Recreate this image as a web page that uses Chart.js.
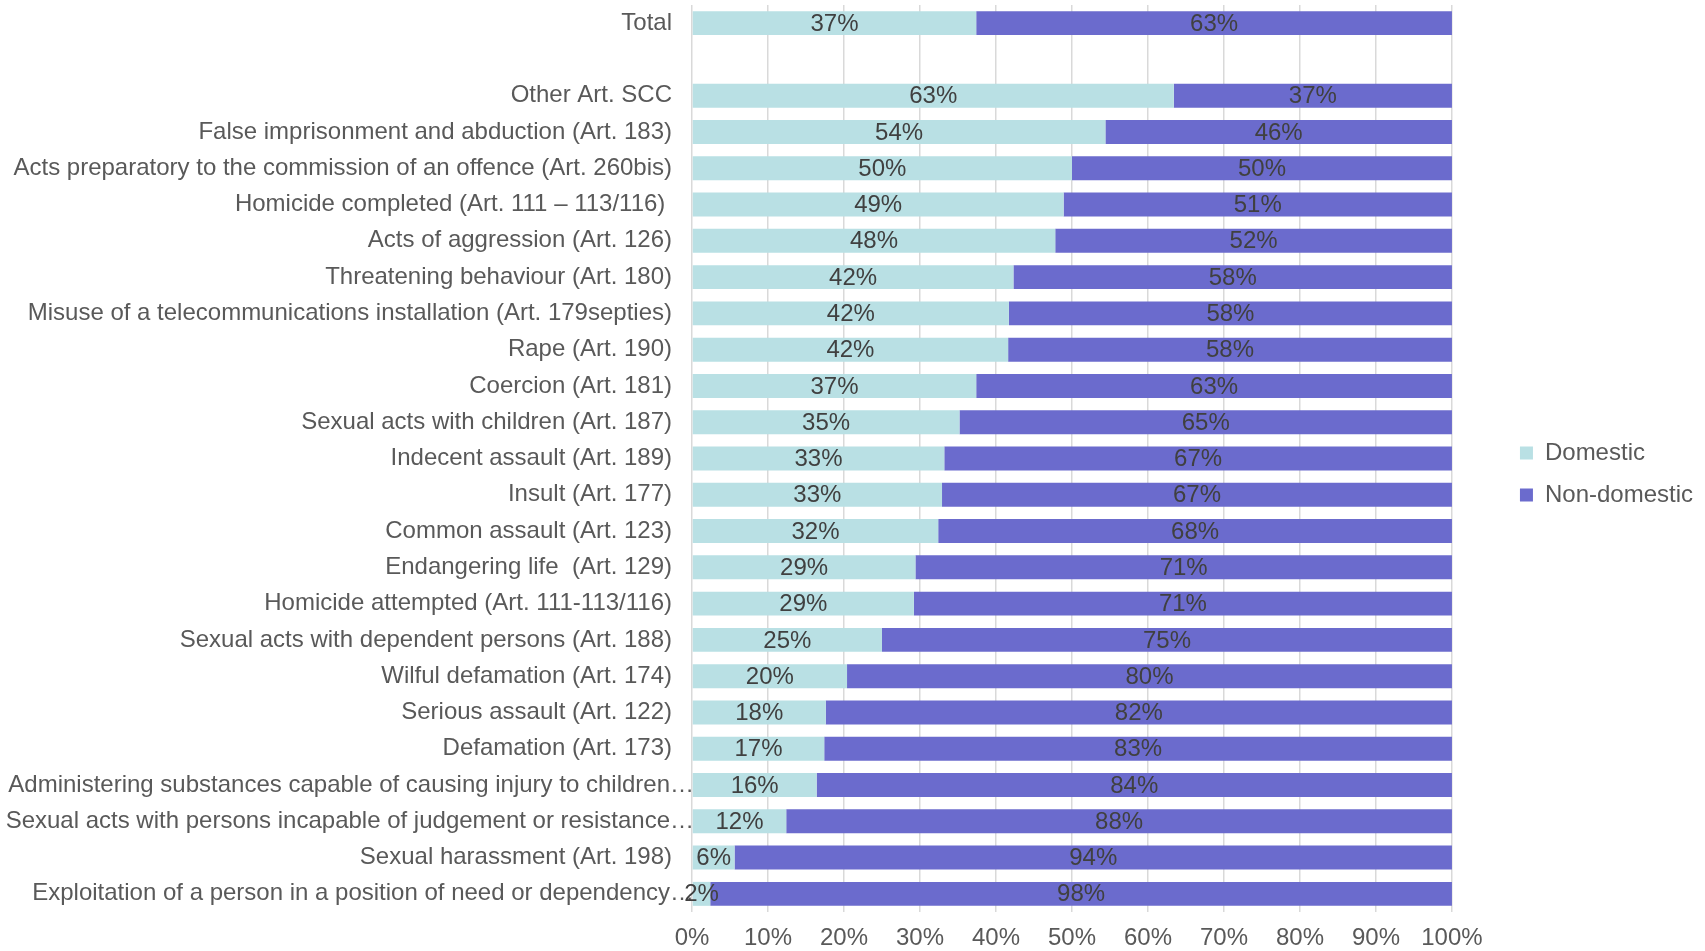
<!DOCTYPE html>
<html>
<head>
<meta charset="utf-8">
<script src="https://cdn.jsdelivr.net/npm/chart.js@4.4.1/dist/chart.umd.min.js"></script>
<style>
    html, body { margin: 0; padding: 0; background: #fff; }
    #wrap { width: 1705px; height: 951px; }
</style>
</head>
<body>
<div id="wrap"><canvas id="offenceChart"></canvas></div>
<script>
const FONT = "'Liberation Sans', Arial, sans-serif";

// categories, top to bottom ('' is the empty gap row under Total)
const offences = [
    'Total',
    '',
    'Other Art. SCC',
    'False imprisonment and abduction (Art. 183)',
    'Acts preparatory to the commission of an offence (Art. 260bis)',
    'Homicide completed (Art. 111 – 113/116) ',
    'Acts of aggression (Art. 126)',
    'Threatening behaviour (Art. 180)',
    'Misuse of a telecommunications installation (Art. 179septies)',
    'Rape (Art. 190)',
    'Coercion (Art. 181)',
    'Sexual acts with children (Art. 187)',
    'Indecent assault (Art. 189)',
    'Insult (Art. 177)',
    'Common assault (Art. 123)',
    'Endangering life  (Art. 129)',
    'Homicide attempted (Art. 111-113/116)',
    'Sexual acts with dependent persons (Art. 188)',
    'Wilful defamation (Art. 174)',
    'Serious assault (Art. 122)',
    'Defamation (Art. 173)',
    'Administering substances capable of causing injury to children…',
    'Sexual acts with persons incapable of judgement or resistance…',
    'Sexual harassment (Art. 198)',
    'Exploitation of a person in a position of need or dependency…'
];

const domestic = [37.4, null, 63.4, 54.4, 50.0, 48.9, 47.8, 42.3, 41.7, 41.6, 37.4, 35.2, 33.2, 32.9, 32.4, 29.4, 29.2, 25.0, 20.4, 17.6, 17.4, 16.4, 12.4, 5.6, 2.4];
const nonDomestic = [62.6, null, 36.6, 45.6, 50.0, 51.1, 52.2, 57.7, 58.3, 58.4, 62.6, 64.8, 66.8, 67.1, 67.6, 70.6, 70.8, 75.0, 79.6, 82.4, 82.6, 83.6, 87.6, 94.4, 97.6];

const xTicks = [0, 10, 20, 30, 40, 50, 60, 70, 80, 90, 100];

// the truncated labels run a little into the plot, as in the original
const truncatedRows = [21, 22, 24];

// percent labels centred in each bar segment
const barLabels = {
    id: 'barLabels',
    afterDatasetsDraw(chart) {
        const ctx = chart.ctx;
        ctx.save();
        ctx.font = '24px ' + FONT;
        ctx.fillStyle = '#404040';
        ctx.textAlign = 'center';
        ctx.textBaseline = 'middle';
        chart.data.datasets.forEach((ds, i) => {
            chart.getDatasetMeta(i).data.forEach((bar, j) => {
                const v = ds.data[j];
                if (v === null) return;
                const p = bar.getProps(['x', 'y', 'base'], true);
                ctx.fillText(Math.round(v) + '%', (p.x + p.base) / 2, p.y + 1);
            });
        });
        ctx.restore();
    }
};

// push the legend a bit away from the plot, and nudge the long labels
const layoutTweaks = {
    id: 'layoutTweaks',
    afterLayout(chart) {
        const lg = chart.legend;
        const dx = chart.chartArea.right + 50 - lg.left;
        lg.left += dx;
        lg.right += dx;
        lg.top -= 4;
        lg.bottom -= 4;
    },
    beforeDraw(chart) {
        const items = chart.scales.y.getLabelItems(chart.chartArea);
        truncatedRows.forEach(i => {
            if (items[i] && !items[i].shifted) {
                items[i].options.translation[0] += 22;
                items[i].shifted = true;
            }
        });
    }
};

const offenceCtx = document.getElementById('offenceChart').getContext('2d');
const offenceChart = new Chart(offenceCtx, {
    type: 'bar',
    data: {
        labels: offences,
        datasets: [{
            label: 'Domestic',
            data: domestic,
            backgroundColor: 'rgb(185, 224, 228)',
        }, {
            label: 'Non-domestic',
            data: nonDomestic,
            backgroundColor: 'rgb(107, 107, 205)',
        }]
    },
    options: {
        indexAxis: 'y',
        responsive: true,
        maintainAspectRatio: false,
        animation: false,
        layout: {
            autoPadding: false,
            padding: {top: 5, right: 52, bottom: 0, left: 0}
        },
        datasets: {
            bar: {
                categoryPercentage: 1,
                barPercentage: 0.66,
            }
        },
        plugins: {
            legend: {
                position: 'right',
                labels: {
                    boxWidth: 13,
                    boxHeight: 13,
                    padding: 18,
                    color: '#595959',
                    font: {family: FONT, size: 24},
                },
            },
            tooltip: {enabled: false},
        },
        scales: {
            x: {
                stacked: true,
                min: 0,
                max: 100,
                afterBuildTicks: (scale) => {
                    scale.ticks = xTicks.map(v => ({value: v}));
                },
                afterFit: (scale) => {
                    scale.height = 39;
                    scale.paddingLeft = 0;
                    scale.paddingRight = 0;
                },
                grid: {color: '#D9D9D9', lineWidth: 1.5, drawTicks: false},
                border: {display: false},
                ticks: {
                    padding: 12,
                    color: '#595959',
                    font: {family: FONT, size: 24},
                    callback: (v) => v + '%',
                },
            },
            y: {
                stacked: true,
                afterFit: (scale) => {
                    scale.width = 692;
                    scale.paddingTop = 0;
                    scale.paddingBottom = 0;
                },
                grid: {display: false, drawTicks: false},
                border: {display: false},
                ticks: {
                    padding: 20,
                    autoSkip: false,
                    color: '#595959',
                    font: {family: FONT, size: 24},
                },
            },
        },
    },
    plugins: [barLabels, layoutTweaks]
});
</script>
</body>
</html>
